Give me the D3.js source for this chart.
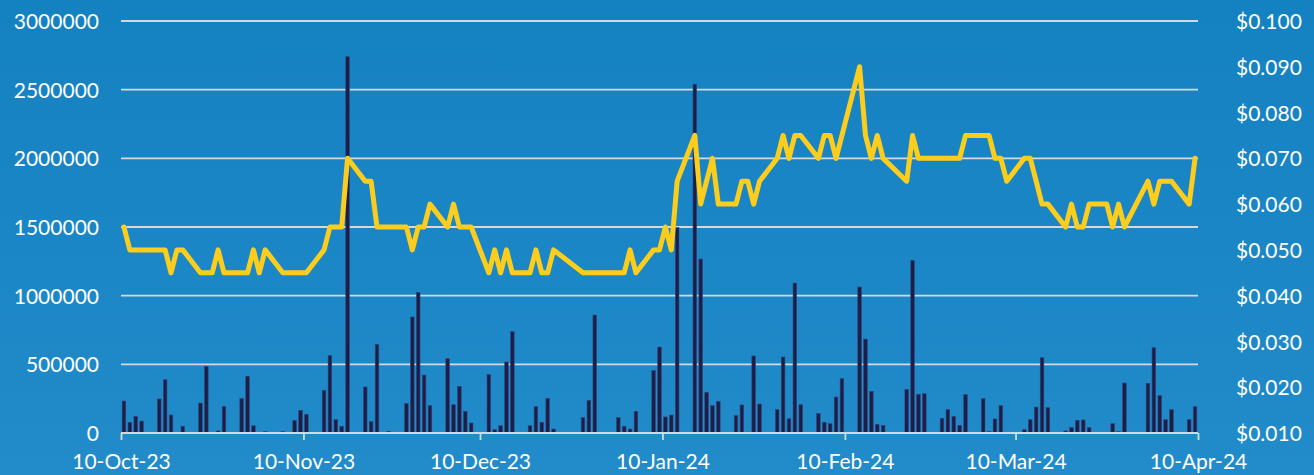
<!DOCTYPE html>
<html>
<head>
<meta charset="utf-8">
<script src="https://cdn.jsdelivr.net/npm/d3@7"></script>
<style>
  html, body { margin: 0; padding: 0; background: #1a86c6; }
  svg { display: block; }
  text { font-family: Lato, "Open Sans", sans-serif; fill: #ffffff; }
</style>
</head>
<body>
<svg id="chart" width="1314" height="475"></svg>
<script>
// Trading days, daily volume (shares) and closing price (dollars)
const dates = [
  "2023-10-10","2023-10-11","2023-10-12","2023-10-13",
  "2023-10-16","2023-10-17","2023-10-18","2023-10-19","2023-10-20",
  "2023-10-23","2023-10-24","2023-10-25","2023-10-26","2023-10-27",
  "2023-10-30","2023-10-31","2023-11-01","2023-11-02","2023-11-03",
  "2023-11-06","2023-11-07","2023-11-08","2023-11-09","2023-11-10",
  "2023-11-13","2023-11-14","2023-11-15","2023-11-16","2023-11-17",
  "2023-11-20","2023-11-21","2023-11-22","2023-11-23","2023-11-24",
  "2023-11-27","2023-11-28","2023-11-29","2023-11-30","2023-12-01",
  "2023-12-04","2023-12-05","2023-12-06","2023-12-07","2023-12-08",
  "2023-12-11","2023-12-12","2023-12-13","2023-12-14","2023-12-15",
  "2023-12-18","2023-12-19","2023-12-20","2023-12-21","2023-12-22",
  "2023-12-27","2023-12-28","2023-12-29",
  "2024-01-02","2024-01-03","2024-01-04","2024-01-05",
  "2024-01-08","2024-01-09","2024-01-10","2024-01-11","2024-01-12",
  "2024-01-15","2024-01-16","2024-01-17","2024-01-18","2024-01-19",
  "2024-01-22","2024-01-23","2024-01-24","2024-01-25","2024-01-26",
  "2024-01-29","2024-01-30","2024-01-31","2024-02-01","2024-02-02",
  "2024-02-05","2024-02-06","2024-02-07","2024-02-08","2024-02-09",
  "2024-02-12","2024-02-13","2024-02-14","2024-02-15","2024-02-16",
  "2024-02-20","2024-02-21","2024-02-22","2024-02-23",
  "2024-02-26","2024-02-27","2024-02-28","2024-02-29","2024-03-01",
  "2024-03-04","2024-03-05","2024-03-06","2024-03-07","2024-03-08",
  "2024-03-11","2024-03-12","2024-03-13","2024-03-14","2024-03-15",
  "2024-03-18","2024-03-19","2024-03-20","2024-03-21","2024-03-22",
  "2024-03-25","2024-03-26","2024-03-27","2024-03-28",
  "2024-04-01","2024-04-02","2024-04-03","2024-04-04","2024-04-05",
  "2024-04-08","2024-04-09"
];

const volume = [
  233000, 78000, 121000, 87000,
  248000, 388000, 131000, 5000, 49000,
  218000, 485000, 5000, 15000, 194000,
  252000, 413000, 53000, 5000, 10000,
  10000, 0, 92000, 165000, 136000,
  311000, 563000, 97000, 49000, 2740000,
  335000, 83000, 646000, 3000, 12000,
  214000, 845000, 1024000, 422000, 199000,
  541000, 206000, 340000, 158000, 73000,
  425000, 24000, 53000, 517000, 738000,
  53000, 192000, 78000, 252000, 29000,
  112000, 238000, 859000,
  112000, 49000, 29000, 158000,
  454000, 626000, 117000, 131000, 1495000,
  2540000, 1267000, 296000, 199000, 231000,
  126000, 204000, 7000, 561000, 211000,
  170000, 553000, 104000, 1092000, 206000,
  141000, 78000, 68000, 262000, 396000,
  1063000, 684000, 303000, 63000, 56000,
  318000, 1257000, 282000, 286000,
  107000, 170000, 121000, 56000, 279000,
  250000, 10000, 102000, 199000, 5000,
  24000, 97000, 189000, 548000, 184000,
  15000, 39000, 92000, 95000, 39000,
  5000, 68000, 10000, 364000,
  362000, 621000, 272000, 97000, 170000,
  97000, 192000
];

const price = [
  0.055, 0.050, 0.050, 0.050,
  0.050, 0.050, 0.045, 0.050, 0.050,
  0.045, 0.045, 0.045, 0.050, 0.045,
  0.045, 0.045, 0.050, 0.045, 0.050,
  0.045, 0.045, 0.045, 0.045, 0.045,
  0.050, 0.055, 0.055, 0.055, 0.070,
  0.065, 0.065, 0.055, 0.055, 0.055,
  0.055, 0.050, 0.055, 0.055, 0.060,
  0.055, 0.060, 0.055, 0.055, 0.055,
  0.045, 0.050, 0.045, 0.050, 0.045,
  0.045, 0.050, 0.045, 0.045, 0.050,
  0.045, 0.045, 0.045,
  0.045, 0.045, 0.050, 0.045,
  0.050, 0.050, 0.055, 0.050, 0.065,
  0.075, 0.060, 0.065, 0.070, 0.060,
  0.060, 0.065, 0.065, 0.060, 0.065,
  0.070, 0.075, 0.070, 0.075, 0.075,
  0.070, 0.075, 0.075, 0.070, 0.075,
  0.090, 0.075, 0.070, 0.075, 0.070,
  0.065, 0.075, 0.070, 0.070,
  0.070, 0.070, 0.070, 0.070, 0.075,
  0.075, 0.075, 0.070, 0.070, 0.065,
  0.070, 0.070, 0.065, 0.060, 0.060,
  0.055, 0.060, 0.055, 0.055, 0.060,
  0.060, 0.055, 0.060, 0.055,
  0.065, 0.060, 0.065, 0.065, 0.065,
  0.060, 0.070
];

// Axis tick values
const volumeTicks = [0, 500000, 1000000, 1500000, 2000000, 2500000, 3000000];
const priceTicks = [0.010, 0.020, 0.030, 0.040, 0.050, 0.060, 0.070, 0.080, 0.090, 0.100];
const dateTicks = ["2023-10-10","2023-11-10","2023-12-10","2024-01-10","2024-02-10","2024-03-10","2024-04-10"];

const parse = d3.utcParse("%Y-%m-%d");
const rows = dates.map((d, i) => ({ date: parse(d), volume: volume[i], price: price[i] }));

const svg = d3.select("#chart");
const W = 1314, H = 475;
const plotLeft = 121, plotRight = 1198, plotTop = 21, plotBottom = 433;

// background gradient
const defs = svg.append("defs");
const grad = defs.append("linearGradient").attr("id", "bg")
  .attr("x1", 0).attr("y1", 0).attr("x2", 0).attr("y2", 1);
grad.append("stop").attr("offset", "0%").attr("stop-color", "#1481c1");
grad.append("stop").attr("offset", "100%").attr("stop-color", "#228bca");
svg.append("rect").attr("width", W).attr("height", H).attr("fill", "url(#bg)");

const x = d3.scaleUtc()
  .domain([parse("2023-10-10"), parse("2024-04-10")])
  .range([plotLeft, plotRight]);
const yVol = d3.scaleLinear().domain([0, 3000000]).range([plotBottom, plotTop]);
const yPrice = d3.scaleLinear().domain([0.01, 0.10]).range([plotBottom, plotTop]);

// each trading day occupies a one-day slot; marks sit at its middle
const mid = d => x(d3.utcHour.offset(d, 12));

// horizontal gridlines (left axis)
svg.append("g")
  .selectAll("line").data(volumeTicks.filter(v => v > 0)).join("line")
  .attr("x1", plotLeft).attr("x2", plotRight)
  .attr("y1", d => yVol(d)).attr("y2", d => yVol(d))
  .attr("stroke", "#d6d9dc").attr("stroke-width", 1.8);

// left axis labels
const leftAxis = d3.axisLeft(yVol).tickValues(volumeTicks)
  .tickFormat(d3.format("d")).tickSize(0).tickPadding(22);
svg.append("g").attr("transform", `translate(${plotLeft},0)`).call(leftAxis)
  .call(g => g.select(".domain").remove())
  .call(g => g.selectAll("text").attr("font-size", 21).attr("fill", "#fff")
    .attr("font-family", "Lato, sans-serif").attr("dy", "0.36em"));

// right axis labels
const rightAxis = d3.axisRight(yPrice).tickValues(priceTicks)
  .tickFormat(d3.format("$.3f")).tickSize(0).tickPadding(38);
svg.append("g").attr("transform", `translate(${plotRight},0)`).call(rightAxis)
  .call(g => g.select(".domain").remove())
  .call(g => g.selectAll("text").attr("font-size", 21).attr("fill", "#fff")
    .attr("font-family", "Lato, sans-serif").attr("dy", "0.36em"));

// volume bars
const bw = 3.6;
svg.append("g")
  .selectAll("rect").data(rows.filter(r => r.volume > 0)).join("rect")
  .attr("x", d => mid(d.date) - bw / 2)
  .attr("width", bw)
  .attr("y", d => yVol(d.volume))
  .attr("height", d => Math.max(0.8, plotBottom - yVol(d.volume)))
  .attr("fill", "#1b1f48")
  .attr("stroke", "#34437a").attr("stroke-width", 0.6);

// x axis
const xAxis = d3.axisBottom(x)
  .tickValues(dateTicks.map(parse))
  .tickFormat(d3.utcFormat("%d-%b-%y"))
  .tickSize(7).tickPadding(14);
svg.append("g").attr("transform", `translate(0,${plotBottom})`).call(xAxis)
  .call(g => g.select(".domain").attr("stroke", "#d6d9dc").attr("stroke-width", 1.8)
    .attr("d", `M${plotLeft},0H${plotRight}`))
  .call(g => g.selectAll(".tick line").attr("stroke", "#d6d9dc").attr("stroke-width", 1.8))
  .call(g => g.selectAll("text").attr("font-size", 21).attr("fill", "#fff")
    .attr("font-family", "Lato, sans-serif"));

// price line
const line = d3.line().x(d => mid(d.date)).y(d => yPrice(d.price));
svg.append("path").datum(rows)
  .attr("d", line)
  .attr("fill", "none")
  .attr("stroke", "#fdcd1d")
  .attr("stroke-width", 5)
  .attr("stroke-linejoin", "round")
  .attr("stroke-linecap", "round");
</script>
</body>
</html>
